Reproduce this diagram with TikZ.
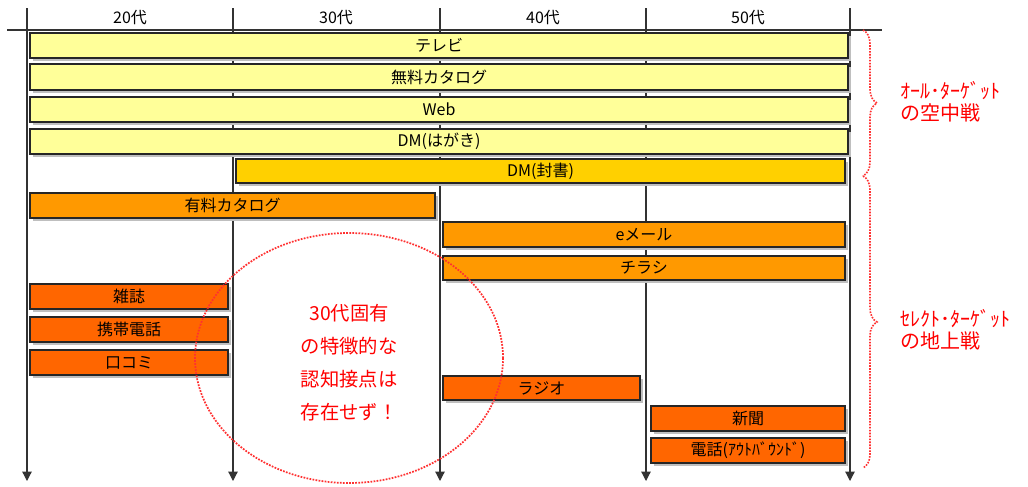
\documentclass[tikz,border=0pt]{standalone}
\usepackage{fontspec}
\setmainfont{Noto Sans CJK JP}
\usetikzlibrary{arrows.meta,shadows,shapes.geometric,decorations.pathreplacing}
\definecolor{ylw}{HTML}{FFFF99}
\definecolor{gld}{HTML}{FFD000}
\definecolor{org}{HTML}{FF9900}
\definecolor{dorg}{HTML}{FF6600}
\definecolor{axgray}{HTML}{333333}
\definecolor{redtxt}{HTML}{FF0000}
\definecolor{reddot}{HTML}{FF3030}
\begin{document}
\begin{tikzpicture}[x=0.75pt,y=-0.75pt,
  barbox/.style={draw=black!85, line width=1.1pt, inner sep=0pt,
    font=\fontsize{12}{14}\selectfont,
    general shadow={fill=black!25, shadow xshift=2.2pt, shadow yshift=-2.2pt}},
  bw/.style={minimum width=#1*0.75pt},
  bh/.style={minimum height=#1*0.75pt},
  axisline/.style={draw=axgray, line width=0.9pt},
  arrline/.style={axisline, -{Triangle[length=7pt,width=7pt]}},
  agelabel/.style={font=\fontsize{12}{14}\selectfont, inner sep=0pt},
  bracestyle/.style={draw=reddot, densely dotted, line width=1.2pt, decorate,
    decoration={brace, amplitude=10.5pt}},
  sidelabel/.style={text=redtxt, font=\fontsize{15}{16.5}\selectfont, align=left, anchor=west, inner sep=0pt},
]
\useasboundingbox[fill=white] (0,0) rectangle (1028,486);

% axis coordinates
\coordinate (t1) at (27,8);   \coordinate (b1) at (27,481);
\coordinate (t2) at (233,8);  \coordinate (b2) at (233,481);
\coordinate (t3) at (440,8);  \coordinate (b3) at (440,481);
\coordinate (t4) at (646,8);  \coordinate (b4) at (646,481);
\coordinate (t5) at (850,8);  \coordinate (b5) at (850,481);
\coordinate (hl) at (7,30);   \coordinate (hr) at (882,30);

\draw[arrline] (t1) -- (b1);
\draw[arrline] (t2) -- (b2);
\draw[arrline] (t3) -- (b3);
\draw[arrline] (t4) -- (b4);
\draw[arrline] (t5) -- (b5);
\draw[axisline] (hl) -- (hr);

% age labels
\node[agelabel] (a20) at (130,18) {20代};
\node[agelabel] (a30) at (336,18) {30代};
\node[agelabel] (a40) at (543,18) {40代};
\node[agelabel] (a50) at (748,18) {50代};

% bars
\node[barbox, fill=ylw, bw=818, bh=25] (tv) at (439,45.5) {テレビ};
\node[barbox, fill=ylw, bw=818, bh=26] (fcat) at (439,77) {無料カタログ};
\node[barbox, fill=ylw, bw=818, bh=25] (web) at (439,109.5) {Web};
\node[barbox, fill=ylw, bw=818, bh=25] (dmh) at (439,141.5) {DM(はがき)};
\node[barbox, fill=gld, bw=609, bh=24] (dmf) at (540.5,171) {DM(封書)};
\node[barbox, fill=org, bw=405, bh=25] (pcat) at (232.5,205.5) {有料カタログ};
\node[barbox, fill=org, bw=402, bh=25] (email) at (644,234.5) {eメール};
\node[barbox, fill=org, bw=402, bh=24] (flyer) at (644,268) {チラシ};
\node[barbox, fill=dorg, bw=198, bh=25] (mag) at (129,296.5) {雑誌};
\node[barbox, fill=dorg, bw=198, bh=25] (mobile) at (129,329.5) {携帯電話};
\node[barbox, fill=dorg, bw=198, bh=25] (wom) at (129,362.5) {口コミ};
\node[barbox, fill=dorg, bw=197, bh=24] (radio) at (541.5,388) {ラジオ};
\node[barbox, fill=dorg, bw=194, bh=25] (paper) at (748,418.5) {新聞};
\node[barbox, fill=dorg, bw=194, bh=25] (phone) at (748,450.5) {電話(ｱｳﾄﾊﾞｳﾝﾄﾞ)};

% braces
\coordinate (br1a) at (863,30);
\coordinate (br1b) at (863,176);
\coordinate (br2a) at (863,176);
\coordinate (br2b) at (863,468);
\draw[bracestyle] (br1a) -- (br1b);
\draw[bracestyle] (br2a) -- (br2b);

\node[sidelabel] (allt) at (900,102) {ｵｰﾙ･ﾀｰｹﾞｯﾄ\\の空中戦};
\node[sidelabel] (selt) at (900,330) {ｾﾚｸﾄ･ﾀｰｹﾞｯﾄ\\の地上戦};

% ellipse and note
\node[draw=reddot, densely dotted, line width=1.3pt, ellipse,
  minimum width=308*0.75pt, minimum height=250*0.75pt, inner sep=0pt] (circ) at (349,358) {};
\node[text=redtxt, align=center, font=\fontsize{14.5}{24.75}\selectfont] (note) at (349,363)
  {30代固有\\の特徴的な\\認知接点は\\存在せず！};
\end{tikzpicture}
\end{document}
